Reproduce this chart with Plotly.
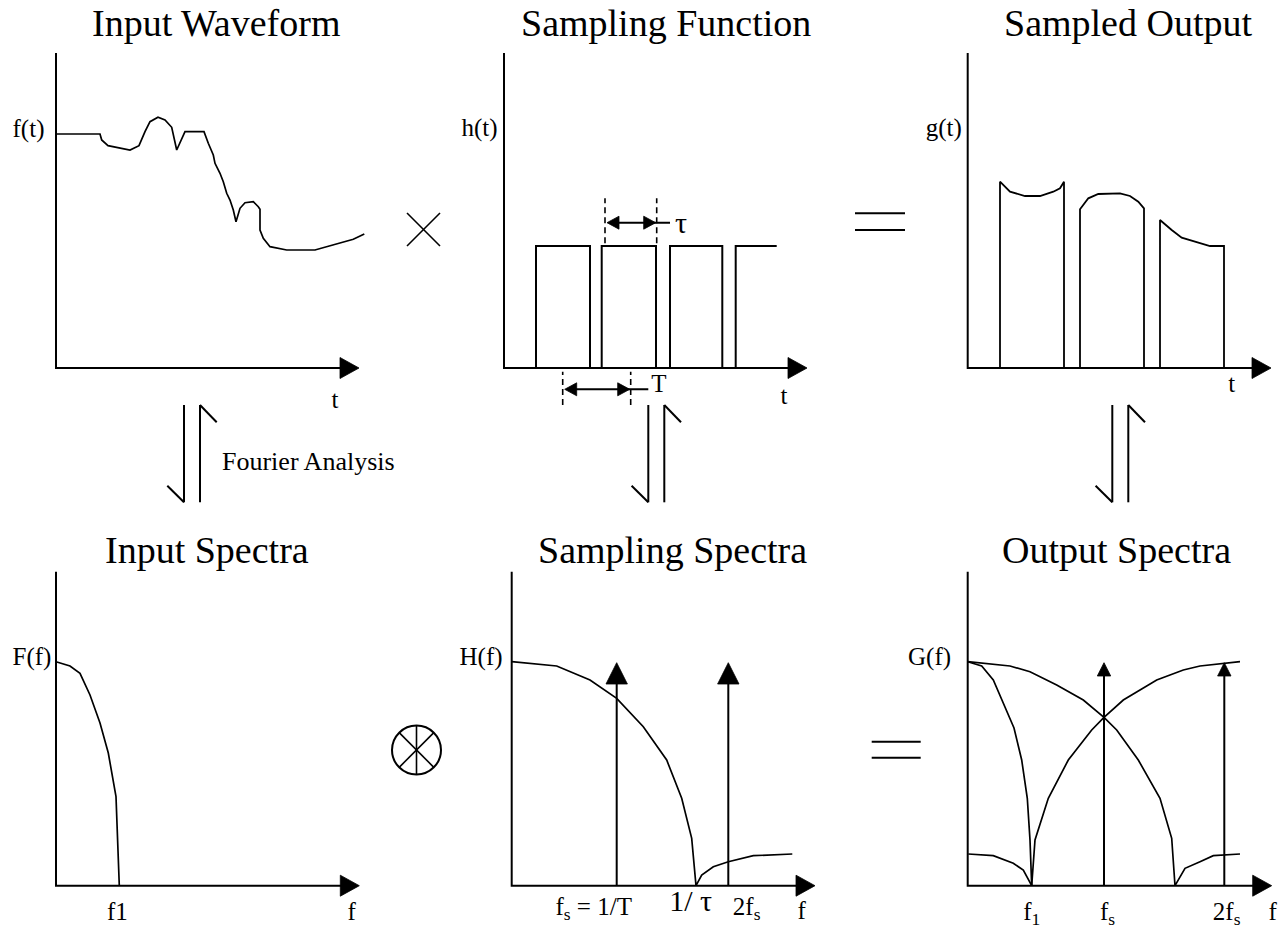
import plotly.graph_objects as go

W, H = 1279, 935
SERIF = "Liberation Serif, 'Times New Roman', Times, serif"
INK = "black"

# ---------------- data (panel units: abscissa from the origin, amplitude upward) -------------

# Input waveform f(t)
wave_t = [0, 44, 45.7, 52, 74, 83, 89, 94, 102, 109, 115.7, 120.7, 129, 148, 152.3, 157.3,
          159, 164, 167.3, 170.7, 174, 177.3, 180, 184, 189, 197.3, 202.3, 204, 204, 207.3,
          214, 230.7, 259, 297.3, 308.3]
wave_f = [234, 234, 228, 222.3, 218, 222.3, 236.3, 246.3, 250.7, 248, 240.7, 218, 236.3,
          236.3, 224.7, 213, 204.7, 194.7, 186.3, 174.7, 168, 158, 146.3, 159.7, 165.3, 166.3,
          161.3, 158.7, 138, 129.7, 121.3, 118, 118, 128.7, 134]

# Sampling pulse train h(t)
pulse_on = [32, 97.7, 166, 231.7]
pulse_off = [86, 152, 218.3]
pulse_end = 272.7
pulse_level = 122

# Sampled output g(t): one list of sample times / amplitudes per pulse
g_t = [
    [32.3, 42.3, 57.3, 72.3, 85.6, 92.3, 96.3],
    [112.3, 120.6, 130.6, 152.3, 162.3, 170.6, 176.3],
    [192.3, 204, 214, 242.3, 256.3],
]
g_v = [
    [186.3, 176.3, 172, 172, 176.3, 179.7, 186.3],
    [158.7, 169.7, 174, 174.7, 172, 166.3, 159.7],
    [148, 138, 130.3, 122, 122],
]

# Input spectrum F(f)
F_f = [0, 14, 24, 34, 44, 52.3, 60, 61.3, 63.3]
F_v = [224, 219.7, 212.4, 190.7, 162.7, 132.7, 89, 52.4, 0]

# Sampling spectrum H(f) and its spectral lines
H_f = [0, 45, 78.3, 105, 131.6, 155, 170, 180, 184.3, 190, 201.6, 216.6, 241.6, 280.6]
H_v = [224, 219.7, 205.7, 187.4, 159, 125.7, 87.4, 47.4, 0, 10.7, 19, 24, 30, 31.7]
H_lines_f = [105, 216.6]
H_lines_v = [223, 223]

# Output spectrum G(f)
G_env_f = [0, 42.3, 62.3, 89, 115.6, 136.3, 149, 170.6, 192.3, 204, 207.3, 217.3, 232.3,
           245.6, 272.3]
G_env_v = [224, 219.7, 214, 200.7, 185.7, 168.4, 155.7, 125.7, 87.4, 47.4, 0, 17.4, 24, 30,
           31.7]
G_base_f = [0, 14, 25.6, 37.3, 46.3, 54, 59.6, 62.3, 64]
G_base_v = [224, 219.7, 205.7, 179, 157.7, 125.7, 87.4, 45.7, 0]
G_tail_f = [0.6, 25.6, 45.6, 55.6, 64]
G_tail_v = [31.7, 30, 22.4, 15.7, 0]
G_image_f = [64, 67.3, 80.6, 100.6, 124, 136.3, 155.6, 189, 215.6, 232.3, 272.3]
G_image_v = [0, 45.7, 87.4, 125.7, 155.7, 168.4, 185.7, 205.7, 215.7, 219.7, 224]
G_lines_f = [136.3, 256.6]
G_lines_v = [223, 223]

# Text
top_titles = ["Input Waveform", "Sampling Function", "Sampled Output"]
bottom_titles = ["Input Spectra", "Sampling Spectra", "Output Spectra"]
y_labels = ["f(t)", "h(t)", "g(t)", "F(f)", "H(f)", "G(f)"]
t_label = "t"
f_label = "f"
in_spec_ticks = ["f1"]
samp_spec_ticks = ["f<sub>s</sub> = 1/T", "1/ τ", "2f<sub>s</sub>"]
out_spec_ticks = ["f<sub>1</sub>", "f<sub>s</sub>", "2f<sub>s</sub>"]
fourier_label = "Fourier Analysis"

TITLE_SIZE = 38
LABEL_SIZE = 25
GREEK_SIZE = 30

# ---------------- layout of the six panels -------------
# origin (page px) and axis lengths of every panel
panels = {
    "in_wave":   (56.0, 368.0, 303.0, 315.0),
    "samp_fn":   (504.0, 368.0, 303.0, 315.0),
    "samp_out":  (967.7, 368.0, 303.3, 315.0),
    "in_spec":   (56.0, 885.7, 303.3, 314.0),
    "samp_spec": (511.7, 885.7, 303.3, 314.0),
    "out_spec":  (967.7, 885.7, 304.0, 314.0),
}
PAD_L, PAD_R, PAD_B, PAD_T = 40, 6, 45, 12
AX_HEAD, AX_HALF = 19, 10.5

fig = go.Figure()
refs = {}
for i, (key, (ox, oy, lx, ly)) in enumerate(panels.items(), start=1):
    sfx = "" if i == 1 else str(i)
    fig.layout["xaxis" + sfx] = dict(
        domain=[(ox - PAD_L) / W, (ox + lx + PAD_R) / W], range=[-PAD_L, lx + PAD_R],
        visible=False, fixedrange=True, anchor="y" + sfx)
    fig.layout["yaxis" + sfx] = dict(
        domain=[1 - (oy + PAD_B) / H, 1 - (oy - ly - PAD_T) / H], range=[-PAD_B, ly + PAD_T],
        visible=False, fixedrange=True, anchor="x" + sfx)
    refs[key] = ("x" + sfx, "y" + sfx)


def line(key, xs, ys, width=1.7, dash=None):
    xr, yr = refs[key]
    fig.add_trace(go.Scatter(
        x=xs, y=ys, xaxis=xr, yaxis=yr, mode="lines",
        line=dict(color=INK, width=width, dash=dash),
        hoverinfo="skip", showlegend=False, cliponaxis=False))


def head(key, tx, ty, direction, length, half):
    if direction == "right":
        xs, ys = [tx - length, tx, tx - length], [ty - half, ty, ty + half]
    elif direction == "left":
        xs, ys = [tx + length, tx, tx + length], [ty - half, ty, ty + half]
    else:  # up
        xs, ys = [tx - half, tx, tx + half], [ty - length, ty, ty - length]
    xr, yr = refs[key]
    fig.add_trace(go.Scatter(
        x=xs + xs[:1], y=ys + ys[:1], xaxis=xr, yaxis=yr, mode="lines", fill="toself",
        fillcolor=INK, line=dict(color=INK, width=0.8),
        hoverinfo="skip", showlegend=False, cliponaxis=False))


def label(key, x, y, s, size=LABEL_SIZE):
    xr, yr = refs[key]
    fig.add_trace(go.Scatter(
        x=[x], y=[y], xaxis=xr, yaxis=yr, mode="text", text=[s],
        textposition="middle center",
        textfont=dict(family=SERIF, size=size, color=INK),
        hoverinfo="skip", showlegend=False, cliponaxis=False))


def spectral_lines(key, fs, vs, length, half):
    for f, v in zip(fs, vs):
        line(key, [f, f], [0, v - length + 1], width=2)
        head(key, f, v, "up", length, half)


# axes with arrowheads
for key, (ox, oy, lx, ly) in panels.items():
    line(key, [0, 0, lx - AX_HEAD + 1], [ly, 0, 0], width=2)
    head(key, lx, 0, "right", AX_HEAD, AX_HALF)

# --- Input waveform
line("in_wave", wave_t, wave_f)
label("in_wave", -27.5, 237, y_labels[0])
label("in_wave", 279, -34, t_label)

# --- Sampling function
px, py = [], []
for k, t_on in enumerate(pulse_on):
    px += [t_on, t_on]
    py += [0, pulse_level]
    if k < len(pulse_off):
        px += [pulse_off[k], pulse_off[k]]
        py += [pulse_level, 0]
    else:
        px += [pulse_end]
        py += [pulse_level]
line("samp_fn", px, py, width=2)

# pulse width τ
TAU_X = (101, 152.7)
TAU_Y, TAU_DASH, TAU_TAIL = 145.3, (124.7, 169.7), 166
for xv in TAU_X:
    line("samp_fn", [xv, xv], list(TAU_DASH), width=1.6, dash="6px,4px")
line("samp_fn", [TAU_X[0] + 10, TAU_TAIL], [TAU_Y, TAU_Y], width=2)
head("samp_fn", TAU_X[0] + 2, TAU_Y, "left", 12, 6.5)
head("samp_fn", TAU_X[1] - 1, TAU_Y, "right", 12, 6.5)
label("samp_fn", 177, 142.5, "τ", size=GREEK_SIZE)

# period T
T_X = (58.7, 126.7)
T_Y, T_DASH, T_TAIL = -21.3, (-37, -3.7), 144.3
for xv in T_X:
    line("samp_fn", [xv, xv], list(T_DASH), width=1.6, dash="6px,4px")
line("samp_fn", [T_X[0] + 10, T_TAIL], [T_Y, T_Y], width=2)
head("samp_fn", T_X[0] + 2, T_Y, "left", 12, 6.5)
head("samp_fn", T_X[1] - 1, T_Y, "right", 12, 6.5)
label("samp_fn", 155, -17.3, "T")
label("samp_fn", -24.5, 238, y_labels[1])
label("samp_fn", 280, -30, t_label)

# --- Sampled output
for ts, vs in zip(g_t, g_v):
    line("samp_out", [ts[0]] + ts + [ts[-1]], [0] + vs + [0], width=1.8)
label("samp_out", -24, 238, y_labels[2])
label("samp_out", 264, -18, t_label)

# --- Input spectrum
line("in_spec", F_f, F_v)
label("in_spec", -24, 227, y_labels[3])
label("in_spec", 61.3, -28, in_spec_ticks[0])
label("in_spec", 295.7, -28, f_label)

# --- Sampling spectrum
line("samp_spec", H_f, H_v)
spectral_lines("samp_spec", H_lines_f, H_lines_v, 21.3, 10.7)
label("samp_spec", -30.7, 227, y_labels[4])
label("samp_spec", 82, -23, samp_spec_ticks[0])
label("samp_spec", 179, -17.8, samp_spec_ticks[1], size=GREEK_SIZE)
label("samp_spec", 235, -23, samp_spec_ticks[2])
label("samp_spec", 290, -27.5, f_label)

# --- Output spectrum
line("out_spec", G_env_f, G_env_v)
line("out_spec", G_base_f, G_base_v)
line("out_spec", G_tail_f, G_tail_v)
line("out_spec", G_image_f, G_image_v)
spectral_lines("out_spec", G_lines_f, G_lines_v, 13.3, 6.7)
label("out_spec", -38.2, 227, y_labels[5])
label("out_spec", 64, -28, out_spec_ticks[0])
label("out_spec", 139.8, -28, out_spec_ticks[1])
label("out_spec", 259, -28, out_spec_ticks[2])
label("out_spec", 305, -28, f_label)

# ---------------- page-level decorations (page px -> paper) -------------
def px2p(x, y):
    return x / W, 1 - y / H


shapes = []


def seg(x0, y0, x1, y1, width=2):
    a, b = px2p(x0, y0)
    c, d = px2p(x1, y1)
    shapes.append(dict(type="line", xref="paper", yref="paper", x0=a, y0=b, x1=c, y1=d,
                       line=dict(color=INK, width=width)))


# multiplication sign between the top panels
seg(407, 213, 440, 246, 1.6)
seg(407, 246, 440, 213, 1.6)
# equals signs
for yy in (213.3, 230):
    seg(855, yy, 905, yy, 2)
for yy in (741.7, 757.7):
    seg(871.7, yy, 920.7, yy, 2)
# convolution sign
CX, CY, CR = 416.5, 750, 24.5
a, b = px2p(CX - CR, CY + CR)
c, d = px2p(CX + CR, CY - CR)
shapes.append(dict(type="circle", xref="paper", yref="paper", x0=a, y0=b, x1=c, y1=d,
                   line=dict(color=INK, width=2)))
seg(CX, CY - CR, CX, CY + CR, 1.6)
k = CR * 0.7071
seg(CX - k, CY - k, CX + k, CY + k, 1.6)
seg(CX - k, CY + k, CX + k, CY - k, 1.6)

# transform-pair arrows between time and frequency panels
for xd in (184, 648.3, 1112.3):
    xu = xd + 16
    seg(xd, 405, xd, 502.3, 2)
    seg(xd - 16.7, 485.7, xd, 502.3, 2)
    seg(xu, 405, xu, 502.3, 2)
    seg(xu, 405, xu + 16.7, 422.3, 2)

annotations = []
for txt, cx in zip(top_titles, (216, 665.8, 1127.5)):
    x, y = px2p(cx, 23.1)
    annotations.append(dict(text=txt, x=x, y=y, xref="paper", yref="paper", showarrow=False,
                            xanchor="center", yanchor="middle",
                            font=dict(family=SERIF, size=TITLE_SIZE, color=INK)))
for txt, cx in zip(bottom_titles, (207.5, 672, 1116.5)):
    x, y = px2p(cx, 550.4)
    annotations.append(dict(text=txt, x=x, y=y, xref="paper", yref="paper", showarrow=False,
                            xanchor="center", yanchor="middle",
                            font=dict(family=SERIF, size=TITLE_SIZE, color=INK)))
x, y = px2p(220, 461.2)
annotations.append(dict(text=fourier_label, x=x, y=y, xref="paper", yref="paper",
                        showarrow=False, xanchor="left", yanchor="middle",
                        font=dict(family=SERIF, size=26, color=INK)))

fig.update_layout(
    width=W, height=H, autosize=False,
    margin=dict(l=0, r=0, t=0, b=0, pad=0),
    paper_bgcolor="white", plot_bgcolor="rgba(0,0,0,0)",
    showlegend=False, shapes=shapes, annotations=annotations,
    font=dict(family=SERIF, size=LABEL_SIZE, color=INK),
)

fig.write_html("out.html", config={"displayModeBar": False, "staticPlot": True})
